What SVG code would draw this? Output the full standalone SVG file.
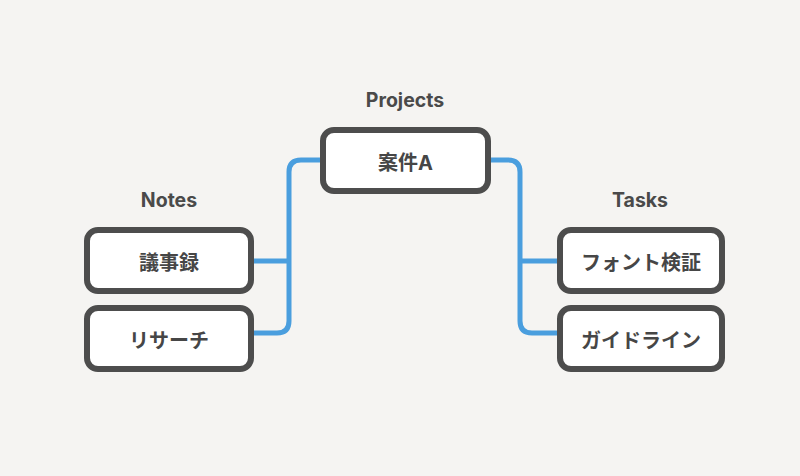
<svg xmlns="http://www.w3.org/2000/svg" width="800" height="476" viewBox="0 0 800 476">
<style>
.node rect{fill:#ffffff;stroke:#4d4d4d;stroke-width:6}
.node text{font-family:"Inter","Noto Sans CJK JP",sans-serif;font-weight:700;font-size:20px;fill:#464646;text-anchor:middle;dominant-baseline:central}
.lbl{font-family:"Inter","Noto Sans CJK JP",sans-serif;font-weight:700;font-size:19.5px;fill:#4a4a4a;text-anchor:middle}
.conn path{fill:none;stroke:#4a9ede;stroke-width:5;stroke-linecap:butt}
</style>
<rect width="800" height="476" fill="#f5f4f2"/>
<g class="conn">
<path d="M323 160 H301 Q289 160 289 172 V321 Q289 333 277 333 H254"/>
<path d="M289 261 H254"/>
<path d="M488 160 H508 Q520 160 520 172 V321 Q520 333 532 333 H560"/>
<path d="M520 261 H560"/>
</g>
<text class="lbl" x="405" y="107">Projects</text>
<text class="lbl" x="169" y="207">Notes</text>
<text class="lbl" x="640" y="207">Tasks</text>
<g id="n-project" class="node"><rect x="323" y="130" width="165" height="61" rx="11"/><text x="405.5" y="162.5">案件A</text></g>
<g id="n-notes1" class="node"><rect x="87" y="230" width="164" height="61" rx="11"/><text x="169" y="262.5">議事録</text></g>
<g id="n-notes2" class="node"><rect x="87" y="308" width="164" height="61" rx="11"/><text x="169" y="340.5">リサーチ</text></g>
<g id="n-tasks1" class="node"><rect x="560" y="230" width="162" height="61" rx="11"/><text x="641" y="262.5">フォント検証</text></g>
<g id="n-tasks2" class="node"><rect x="560" y="308" width="162" height="61" rx="11"/><text x="641" y="340.5">ガイドライン</text></g>
</svg>
